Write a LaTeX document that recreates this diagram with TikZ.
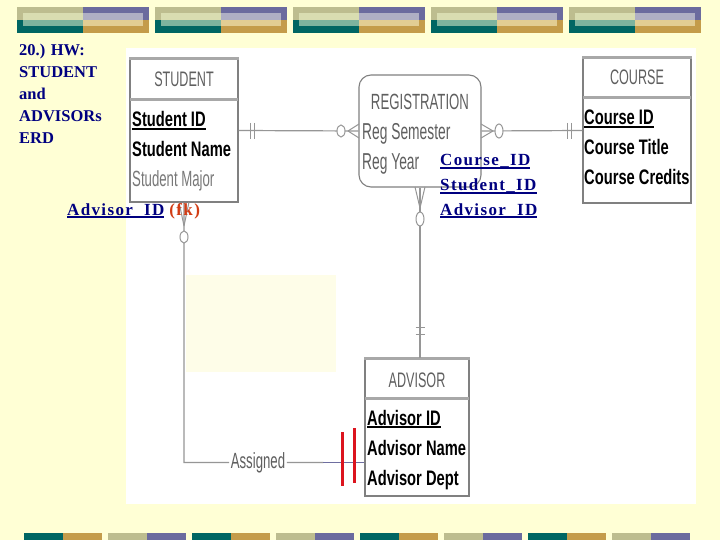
\documentclass[tikz,border=0pt]{standalone}
\usepackage{fontspec}
\setmainfont{Liberation Serif}
\newfontfamily\erdR{Liberation Sans}[FakeStretch=0.6]
\newfontfamily\erdB{Liberation Sans}[FakeStretch=0.7]
\newfontfamily\slideT{Liberation Serif}
\newfontfamily\slideS{Liberation Serif}[LetterSpace=8]
\usetikzlibrary{calc}
\definecolor{bgyellow}{RGB}{255,255,213}
\definecolor{paleyel}{RGB}{254,253,232}
\definecolor{bkhaki}{RGB}{189,189,143}
\definecolor{bpurple}{RGB}{107,107,158}
\definecolor{bteal}{RGB}{0,102,99}
\definecolor{bgold}{RGB}{196,156,74}
\definecolor{ikhaki}{RGB}{217,221,177}
\definecolor{ipurple}{RGB}{175,175,196}
\definecolor{iteal}{RGB}{125,179,158}
\definecolor{igold}{RGB}{226,205,147}
\definecolor{slideblue}{RGB}{0,0,128}
\definecolor{fkred}{RGB}{210,60,20}
\definecolor{boxgray}{RGB}{128,128,128}
\definecolor{hdrgray}{RGB}{168,168,168}
\definecolor{linegray}{RGB}{150,150,150}
\definecolor{txtgray}{RGB}{95,95,95}
\definecolor{bluegray}{RGB}{110,110,160}
\definecolor{barred}{RGB}{220,20,30}
\newcommand\thul[1]{\leavevmode\setbox0=\hbox{#1}\rlap{\rule[-2.6pt]{\wd0}{1.4pt}}\box0}
\newcommand\topblk[1]{%
  \fill[bkhaki] (#1,7) rectangle ++(66,13);
  \fill[bpurple] (#1+66,7) rectangle ++(66,13);
  \fill[bteal] (#1,20) rectangle ++(66,13);
  \fill[bgold] (#1+66,20) rectangle ++(66,13);
  \fill[ikhaki] (#1+6,13) rectangle ++(60,7);
  \fill[ipurple] (#1+66,13) rectangle ++(60,7);
  \fill[iteal] (#1+6,20) rectangle ++(60,6.5);
  \fill[igold] (#1+66,20) rectangle ++(60,6.5);}
\newcommand\botblk[3]{%
  \fill[#2] (#1,533) rectangle ++(39,7);
  \fill[#3] (#1+39,533) rectangle ++(39,7);}
\tikzset{
  entity/.style={draw=boxgray, line width=1.1pt, fill=white, inner sep=0pt},
  hdr/.style={draw=hdrgray, line width=3pt},
  topedge/.style={draw=hdrgray, line width=2.5pt},
  conn/.style={draw=linegray, line width=1.2pt},
  ring/.style={draw=linegray, line width=1pt, fill=white},
  titletxt/.style={anchor=base, inner sep=0pt, text=txtgray, font=\erdR\fontsize{21}{21}\selectfont},
  attr/.style={anchor=base west, inner sep=0pt, text=black, font=\erdB\bfseries\fontsize{21}{21}\selectfont},
  regattr/.style={anchor=base west, inner sep=0pt, text=txtgray, font=\erdR\fontsize{23}{23}\selectfont},
  slidetitle/.style={anchor=base west, inner sep=0pt, text=slideblue, font=\slideT\bfseries\fontsize{16.5}{16.5}\selectfont},
  idtxt/.style={anchor=base west, inner sep=0pt, text=slideblue, font=\slideS\bfseries\fontsize{17}{17}\selectfont},
  redbar/.style={draw=barred, line width=3pt}
}
\begin{document}
\begin{tikzpicture}[x=1pt,y=-1pt]
\useasboundingbox (0,0) rectangle (720,540);
\fill[bgyellow] (0,0) rectangle (720,540);
% banners
\topblk{17}\topblk{155}\topblk{293}\topblk{431}\topblk{569}
\botblk{24}{bteal}{bgold}\botblk{108}{bkhaki}{bpurple}
\botblk{192}{bteal}{bgold}\botblk{276}{bkhaki}{bpurple}
\botblk{360}{bteal}{bgold}\botblk{444}{bkhaki}{bpurple}
\botblk{528}{bteal}{bgold}\botblk{612}{bkhaki}{bpurple}
% white panel
\fill[white] (126,48) rectangle (696,504);
\fill[paleyel] (186,275) rectangle (336,372);
% slide title
\node[slidetitle] (t1) at (19,56) {20.) HW:};
\node[slidetitle] (t2) at (19,78) {STUDENT};
\node[slidetitle] (t3) at (19,100) {and};
\node[slidetitle] (t4) at (19,122) {ADVISORs};
\node[slidetitle] (t5) at (19,144) {ERD};
% entities
\node[entity, minimum width=108pt, minimum height=143pt] (student) at (184,130.5) {};
\draw[topedge] (student.north west) -- (student.north east);
\draw[hdr] (130,100) -- (238,100);
\node[titletxt] (stT) at (184,87) {STUDENT};
\node[attr] (st1) at (132,127) {\thul{Student ID}};
\node[attr] (st2) at (132,157) {Student Name};
\node[regattr, font=\erdR\fontsize{22}{22}\selectfont, text={rgb,255:red,120;green,120;blue,120}] (st3) at (132,187) {Student Major};

\node[entity, minimum width=108pt, minimum height=145pt] (course) at (637,130.5) {};
\draw[topedge] (course.north west) -- (course.north east);
\draw[hdr] (583,98) -- (691,98);
\node[titletxt] (coT) at (637,85) {COURSE};
\node[attr] (co1) at (584,125) {\thul{Course ID}};
\node[attr] (co2) at (584,155) {Course Title};
\node[attr] (co3) at (584,185) {Course Credits};

\node[entity, minimum width=104pt, minimum height=137pt] (adv) at (417,427.5) {};
\draw[topedge] (adv.north west) -- (adv.north east);
\draw[hdr] (365,398) -- (469,398);
\node[titletxt] (adT) at (417,387) {ADVISOR};
\node[attr] (ad1) at (367,425) {\thul{Advisor ID}};
\node[attr] (ad2) at (367,455) {Advisor Name};
\node[attr] (ad3) at (367,485) {Advisor Dept};

\node[entity, rounded corners=12pt, minimum width=122pt, minimum height=112pt] (reg) at (420,131) {};
\node[titletxt, font=\erdR\fontsize{22}{22}\selectfont] (rgT) at (420,110) {REGISTRATION};
\node[regattr] (rg1) at (362,140) {Reg Semester};
\node[regattr] (rg2) at (362,170) {Reg Year};

% connectors
\draw[conn] (student.east) -- (reg.west);
\draw[conn] (reg.east) -- (course.west);
\draw[conn] (reg.south) -- (reg.south |- adv.north);
\coordinate (advIn) at ($(adv.south west)+(0,-34)$);
\coordinate (bend) at (student.south |- advIn);
\coordinate (mid) at ($(advIn)+(-41,0)$);
\node[inner sep=1.5pt, text=txtgray, font=\erdR\fontsize{22}{22}\selectfont] (asg) at ($(bend)!0.41!(advIn)$) {Assigned};
\draw[conn] (student.south) -- (bend) -- (asg.west);
\draw[conn] (asg.east) -- (mid);
\draw[draw=bluegray, line width=1.4pt] (mid) -- (advIn);

% ends: student side of student-registration
\draw[conn, line width=1pt] (250,123) -- (250,139) (254,123) -- (254,139);
% registration side (west)
\draw[conn, line width=1pt] (348,131) -- (359,124) (348,131) -- (359,138);
\draw[ring] (341,131) ellipse [x radius=4, y radius=6];
% registration side (east)
\draw[conn, line width=1pt] (493,131) -- (481,124) (493,131) -- (481,138);
\draw[ring] (499,131) ellipse [x radius=4, y radius=7];
% course side
\draw[conn, line width=1pt] (567,123) -- (567,139) (571,123) -- (571,139);
% registration side (south)
\draw[conn, line width=1pt] (420,208) -- (415,187) (420,208) -- (425,187);
\draw[ring] (420,219) ellipse [x radius=4, y radius=7];
% advisor top
\draw[conn, line width=1pt] (415.5,327) -- (424.5,327) (415.5,334) -- (424.5,334);
% student bottom
\draw[conn, line width=1pt] (184,226) -- (179,202) (184,226) -- (189,202);
\draw[ring] (184,237) ellipse [x radius=4, y radius=6];
% red bars at advisor
\draw[redbar] (342,432) -- (342,486);
\draw[redbar] (354,428) -- (354,483);

% overlay ID texts
\node[idtxt] (cid) at (440,166) {\thul{Course\_ID}};
\node[idtxt] (sid) at (440,191) {\thul{Student\_ID}};
\node[idtxt] (aid) at (440,215) {\thul{Advisor\_ID}};
\node[idtxt] (fk) at (67,215) {\thul{Advisor\_ID}\hspace{5pt}\textcolor{fkred}{(fk)}};
\end{tikzpicture}
\end{document}
